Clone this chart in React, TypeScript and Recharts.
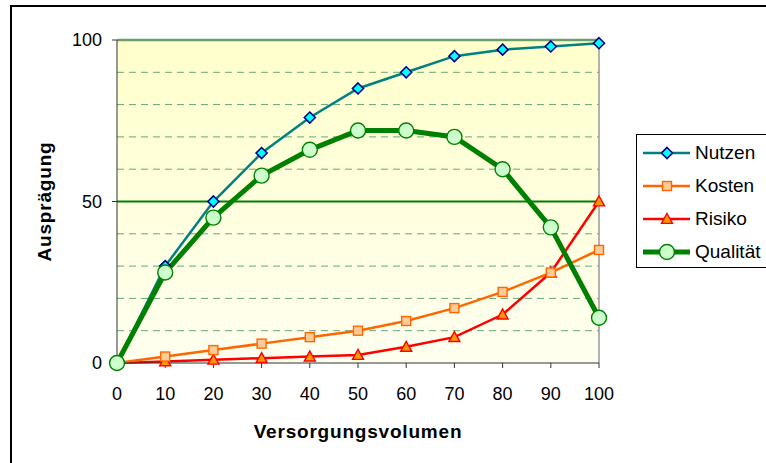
import React from 'react';
import { LineChart, Line, XAxis, YAxis, ReferenceLine, ReferenceArea } from 'recharts';

const volumes = [0, 10, 20, 30, 40, 50, 60, 70, 80, 90, 100];
const nutzen = [0, 30, 50, 65, 76, 85, 90, 95, 97, 98, 99];
const kosten = [0, 2, 4, 6, 8, 10, 13, 17, 22, 28, 35];
const risiko = [0, 0.5, 1, 1.5, 2, 2.5, 5, 8, 15, 28, 50];
const qualitaet = [0, 28, 45, 58, 66, 72, 72, 70, 60, 42, 14];
const xTicks = [0, 10, 20, 30, 40, 50, 60, 70, 80, 90, 100];
const yTicks = [0, 50, 100];
const dashedGrid = [10, 20, 30, 40, 60, 70, 80, 90];

const data = volumes.map((v, i) => ({
  x: v,
  Nutzen: nutzen[i],
  Kosten: kosten[i],
  Risiko: risiko[i],
  Qualitaet: qualitaet[i],
}));

const FONT = 'Arial, "Liberation Sans", sans-serif';

const Diamond = (p: any) => {
  const { cx, cy } = p;
  if (cx == null || cy == null) return null;
  const r = 5.5;
  return <path d={`M${cx},${cy - r}L${cx + r},${cy}L${cx},${cy + r}L${cx - r},${cy}Z`} fill="#00FFFF" stroke="#000080" strokeWidth={1.6} />;
};
const Square = (p: any) => {
  const { cx, cy } = p;
  if (cx == null || cy == null) return null;
  const r = 4.5;
  return <rect x={cx - r} y={cy - r} width={2 * r} height={2 * r} fill="#FFCC99" stroke="#FF6600" strokeWidth={1.4} />;
};
const Triangle = (p: any) => {
  const { cx, cy } = p;
  if (cx == null || cy == null) return null;
  const r = 5.5;
  return <path d={`M${cx},${cy - r}L${cx + r},${cy + r * 0.8}L${cx - r},${cy + r * 0.8}Z`} fill="#FF9900" stroke="#FF0000" strokeWidth={1.4} />;
};
const Circle = (p: any) => {
  const { cx, cy } = p;
  if (cx == null || cy == null) return null;
  return <circle cx={cx} cy={cy} r={7.5} fill="#CCFFCC" stroke="#008000" strokeWidth={1.4} />;
};

const legendItems = [
  { name: 'Nutzen', color: '#008080', width: 2.5, Marker: Diamond },
  { name: 'Kosten', color: '#FF6600', width: 2.5, Marker: Square },
  { name: 'Risiko', color: '#FF0000', width: 2.5, Marker: Triangle },
  { name: 'Qualität', color: '#008000', width: 5, Marker: Circle },
];

export default function App() {
  return (
    <div style={{ position: 'absolute', left: 0, top: 0, width: 766, height: 463, overflow: 'hidden', background: '#fff' }}>
      <div style={{ position: 'absolute', left: 10, top: 5, width: 800, height: 500, border: '2px solid #000' }} />
      <div style={{ position: 'absolute', left: 0, top: 0 }}>
        <LineChart width={766} height={463} data={data} margin={{ top: 40, right: 167, bottom: 20, left: 57 }}>
          <defs>
            <linearGradient id="bg" x1="0" y1="0" x2="0" y2="1">
              <stop offset="0%" stopColor="#FFFFCC" />
              <stop offset="100%" stopColor="#FFFFF0" />
            </linearGradient>
          </defs>
          <XAxis
            dataKey="x"
            type="number"
            domain={[0, 100]}
            ticks={xTicks}
            height={80}
            tickSize={5}
            tickMargin={19}
            stroke="#333"
            tick={{ fill: '#000', fontSize: 18, fontFamily: FONT }}
            label={{ value: 'Versorgungsvolumen', position: 'insideBottom', offset: 5, style: { fontSize: 19, fontWeight: 'bold', fontFamily: FONT, fill: '#000', letterSpacing: 0.8 } }}
          />
          <YAxis
            type="number"
            domain={[0, 100]}
            ticks={yTicks}
            width={60}
            tickSize={5}
            tickMargin={10}
            stroke="#333"
            tick={{ fill: '#000', fontSize: 18, fontFamily: FONT }}
            label={{ value: 'Ausprägung', angle: -90, position: 'insideLeft', offset: 0, dx: -13, style: { fontSize: 19, fontWeight: 'bold', fontFamily: FONT, fill: '#000', textAnchor: 'middle', letterSpacing: 0.8 } }}
          />
          <ReferenceArea x1={0} x2={100} y1={0} y2={100} fill="url(#bg)" fillOpacity={1} stroke="none" ifOverflow="visible" />
          {dashedGrid.map((g) => (
            <ReferenceLine key={g} y={g} stroke="#2E8B57" strokeOpacity={0.75} strokeDasharray="7 5" strokeWidth={1} />
          ))}
          <ReferenceLine x={100} stroke="#999" strokeWidth={1.5} />
          <ReferenceLine y={50} stroke="#008000" strokeWidth={2} />
          <ReferenceLine y={100} stroke="#6B9E6B" strokeWidth={2.5} />
          <Line dataKey="Risiko" stroke="#FF0000" strokeWidth={2.5} dot={<Triangle />} activeDot={false} isAnimationActive={false} />
          <Line dataKey="Kosten" stroke="#FF6600" strokeWidth={2.5} dot={<Square />} activeDot={false} isAnimationActive={false} />
          <Line dataKey="Nutzen" stroke="#008080" strokeWidth={2.5} dot={<Diamond />} activeDot={false} isAnimationActive={false} />
          <Line dataKey="Qualitaet" name="Qualität" stroke="#008000" strokeWidth={5} dot={<Circle />} activeDot={false} isAnimationActive={false} />
        </LineChart>
      </div>
      <div style={{ position: 'absolute', left: 636, top: 134, width: 150, height: 132, border: '1px solid #000', background: '#fff' }}>
        {legendItems.map((it, i) => (
          <div key={it.name} style={{ position: 'absolute', left: 0, top: 6 + i * 33, height: 24, width: 150 }}>
            <svg width={56} height={24} style={{ position: 'absolute', left: 6, top: 0 }}>
              <line x1={0} y1={12} x2={47} y2={12} stroke={it.color} strokeWidth={it.width} />
              <it.Marker cx={24} cy={12} />
            </svg>
            <span style={{ position: 'absolute', left: 58, top: 0, fontSize: 19, lineHeight: '24px', fontFamily: FONT, color: '#000', whiteSpace: 'nowrap' }}>{it.name}</span>
          </div>
        ))}
      </div>
    </div>
  );
}
